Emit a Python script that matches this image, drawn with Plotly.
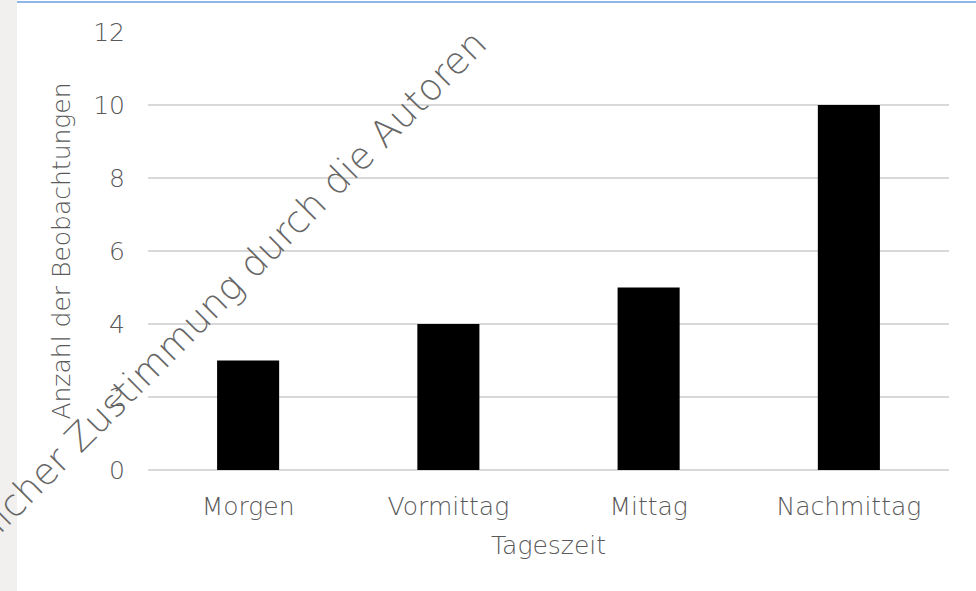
import plotly.graph_objects as go

tageszeit = ["Morgen", "Vormittag", "Mittag", "Nachmittag"]
beobachtungen = [3, 4, 5, 10]
y_ticks = [0, 2, 4, 6, 8, 10, 12]

TEXT = "#595959"
GRID = "#d9d9d9"
FONT = "DejaVu Sans, sans-serif"

fig = go.Figure(go.Bar(
    x=tageszeit,
    y=beobachtungen,
    marker=dict(color="black", line=dict(width=0)),
))

fig.update_layout(
    width=976, height=591,
    paper_bgcolor="white",
    plot_bgcolor="white",
    font=dict(family=FONT, color=TEXT, size=25, weight=200),
    margin=dict(l=148, r=27, t=32, b=121),
    bargap=0.69,
    showlegend=False,
    xaxis=dict(
        title=dict(text="Tageszeit", font=dict(size=25), standoff=16),
        showgrid=False, showline=False, ticks="",
        tickfont=dict(size=25), ticklabelstandoff=19,
    ),
    yaxis=dict(
        title=dict(text="Anzahl der Beobachtungen", font=dict(size=25), standoff=15),
        range=[0, 12], tickvals=y_ticks,
        gridcolor=GRID, gridwidth=2,
        zeroline=True, zerolinecolor=GRID, zerolinewidth=2,
        showline=False, ticks="",
        tickfont=dict(size=25), ticklabelstandoff=22,
    ),
    shapes=[
        # grey strip on the left and thin blue line on top (page frame)
        dict(type="rect", xref="paper", yref="paper", x0=-148/801, x1=-131/801,
             y0=-121/438, y1=1 + 32/438, fillcolor="#f1f0ee", line=dict(width=0),
             layer="below"),
        dict(type="line", xref="paper", yref="paper", x0=-131/801, x1=1 + 27/801,
             y0=1 + 30/438, y1=1 + 30/438, line=dict(color="#8db8e8", width=2)),
    ],
)

# diagonal watermark
fig.add_annotation(
    text="ausdrücklicher Zustimmung durch die Autoren",
    xref="paper", yref="paper", x=(498 - 148) / 801, y=(470 - 19) / 438,
    xanchor="right", yanchor="top",
    showarrow=False, textangle=-45,
    font=dict(family="DejaVu Sans, sans-serif", size=37, color="#666666"),
)

fig.write_html("out.html", config={"displayModeBar": False},
               post_script="document.body.style.margin='0';")
